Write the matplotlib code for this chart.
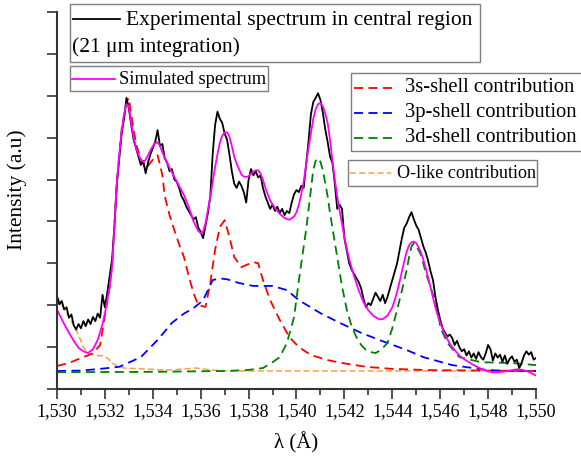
import numpy as np
import matplotlib.pyplot as plt
from matplotlib.ticker import MultipleLocator, FuncFormatter
from matplotlib.lines import Line2D
from matplotlib.patches import Rectangle

plt.rcParams['font.family'] = ['Liberation Serif', 'DejaVu Serif']

# experimental spectrum, sampled every 0.1 mA
wl_exp = np.linspace(1.530, 1.550, 201)
exp_int = [
    2.22, 2.02, 2.10, 1.90, 1.95, 1.70, 1.78, 1.52, 1.42, 1.55,
    1.45, 1.62, 1.50, 1.66, 1.55, 1.72, 1.62, 1.80, 1.70, 2.25,
    1.95, 2.30, 2.70, 3.10, 3.90, 4.90, 5.50, 6.10, 6.45, 6.95,
    6.70, 6.30, 5.95, 5.75, 5.55, 5.35, 5.45, 5.15, 5.40, 5.60,
    5.75, 5.90, 6.18, 5.80, 5.85, 5.50, 5.40, 5.20, 5.25, 5.00,
    4.95, 4.80, 4.60, 4.50, 4.35, 4.25, 4.15, 4.05, 4.10, 3.85,
    3.75, 3.60, 3.90, 4.20, 4.60, 5.60, 6.30, 6.62, 6.45, 6.35,
    6.10, 5.95, 5.60, 5.20, 4.90, 4.80, 4.95, 4.85, 4.70, 4.45,
    5.00, 5.25, 5.10, 5.20, 5.05, 5.10, 4.80, 4.60, 4.45, 4.30,
    4.40, 4.25, 4.35, 4.20, 4.30, 4.15, 4.25, 4.20, 4.45, 4.65,
    4.75, 4.70, 4.85, 4.80, 5.35, 5.90, 6.55, 6.85, 6.95, 7.06,
    6.90, 6.60, 6.20, 5.90, 5.55, 5.40, 4.90, 4.30, 4.40, 4.30,
    3.60, 3.30, 3.00, 2.85, 2.75, 2.65, 2.55, 2.40, 2.15, 1.95,
    2.05, 2.00, 2.15, 2.30, 2.20, 2.10, 2.25, 2.05, 2.20, 2.40,
    2.60, 2.80, 3.00, 3.30, 3.60, 3.85, 3.95, 4.10, 4.22, 4.05,
    3.90, 3.80, 3.60, 3.40, 3.25, 3.05, 2.80, 2.60, 2.20, 1.90,
    1.65, 1.45, 1.35, 1.25, 1.30, 1.22, 1.05, 1.15, 1.00, 0.90,
    0.95, 0.80, 0.90, 0.75, 0.85, 0.72, 0.88, 0.76, 0.70, 0.85,
    1.05, 0.95, 0.68, 0.85, 0.75, 0.82, 0.65, 0.80, 0.60, 0.72,
    0.78, 0.65, 0.70, 0.50, 0.62, 0.80, 0.90, 0.82, 0.88, 0.70,
    0.74,
]

wl_sim = [
    1.5300, 1.5303, 1.5305, 1.5307, 1.5309, 1.5311, 1.5313, 1.5315, 1.5317, 1.5319,
    1.5320, 1.5322, 1.5323, 1.5324, 1.5325, 1.5326, 1.5327, 1.5328, 1.5329, 1.5330,
    1.5331, 1.5332, 1.5333, 1.5334, 1.5335, 1.5336, 1.5337, 1.5338, 1.5339, 1.5340,
    1.5341, 1.5342, 1.5343, 1.5344, 1.5345, 1.5347, 1.5349, 1.5351, 1.5353, 1.5355,
    1.5357, 1.5359, 1.5360, 1.5361, 1.5362, 1.5364, 1.5366, 1.5367, 1.5368, 1.5369,
    1.5370, 1.5371, 1.5372, 1.5373, 1.5374, 1.5375, 1.5376, 1.5377, 1.5378, 1.5379,
    1.5380, 1.5381, 1.5382, 1.5383, 1.5384, 1.5385, 1.5386, 1.5387, 1.5388, 1.5389,
    1.5391, 1.5393, 1.5395, 1.5397, 1.5399, 1.5400, 1.5401, 1.5402, 1.5403, 1.5404,
    1.5405, 1.5406, 1.5407, 1.5408, 1.5409, 1.5410, 1.5411, 1.5412, 1.5413, 1.5414,
    1.5415, 1.5416, 1.5417, 1.5418, 1.5419, 1.5420, 1.5421, 1.5422, 1.5424, 1.5426,
    1.5428, 1.5430, 1.5432, 1.5434, 1.5435, 1.5436, 1.5438, 1.5440, 1.5441, 1.5442,
    1.5443, 1.5444, 1.5445, 1.5446, 1.5447, 1.5448, 1.5449, 1.5450, 1.5451, 1.5452,
    1.5453, 1.5454, 1.5455, 1.5456, 1.5457, 1.5458, 1.5459, 1.5460, 1.5462, 1.5464,
    1.5466, 1.5468, 1.5470, 1.5472, 1.5474, 1.5476, 1.5478, 1.5480, 1.5482, 1.5484,
    1.5486, 1.5488, 1.5490, 1.5492, 1.5494, 1.5496, 1.5498, 1.5500,
]
sim_int = [
    1.89, 1.55, 1.34, 1.15, 0.98, 0.90, 0.86, 0.95, 1.17, 1.55,
    1.81, 2.43, 2.91, 3.90, 4.90, 5.60, 6.15, 6.55, 6.80, 6.75,
    6.35, 6.00, 5.75, 5.60, 5.47, 5.42, 5.47, 5.58, 5.70, 5.80,
    5.87, 5.89, 5.80, 5.65, 5.52, 5.28, 5.06, 4.85, 4.63, 4.35,
    4.00, 3.77, 3.72, 3.76, 3.95, 4.58, 5.30, 5.60, 5.88, 6.05,
    6.12, 6.13, 6.02, 5.80, 5.55, 5.38, 5.25, 5.12, 5.07, 5.06,
    5.08, 5.14, 5.19, 5.22, 5.22, 5.14, 4.99, 4.80, 4.65, 4.50,
    4.32, 4.18, 4.08, 4.04, 4.12, 4.22, 4.40, 4.65, 4.95, 5.35,
    5.75, 6.10, 6.45, 6.68, 6.80, 6.83, 6.75, 6.58, 6.35, 5.95,
    5.45, 5.00, 4.60, 4.25, 3.95, 3.62, 3.35, 3.10, 2.70, 2.35,
    2.07, 1.88, 1.75, 1.68, 1.66, 1.67, 1.75, 1.95, 2.12, 2.32,
    2.55, 2.80, 3.05, 3.28, 3.43, 3.50, 3.52, 3.48, 3.38, 3.25,
    3.08, 2.88, 2.65, 2.42, 2.18, 1.95, 1.75, 1.58, 1.30, 1.08,
    0.93, 0.80, 0.71, 0.64, 0.57, 0.51, 0.46, 0.42, 0.40, 0.40,
    0.41, 0.43, 0.45, 0.47, 0.46, 0.43, 0.38, 0.32,
]

wl_3s = [
    1.5300, 1.5305, 1.5310, 1.5315, 1.5318, 1.5320, 1.5322, 1.5323, 1.5325, 1.5327,
    1.5329, 1.5330, 1.5331, 1.5333, 1.5335, 1.5337, 1.5339, 1.5341, 1.5342, 1.5343,
    1.5344, 1.5345, 1.5347, 1.5349, 1.5351, 1.5353, 1.5355, 1.5357, 1.5359, 1.5362,
    1.5364, 1.5366, 1.5368, 1.5370, 1.5372, 1.5374, 1.5377, 1.5379, 1.5382, 1.5384,
    1.5386, 1.5389, 1.5393, 1.5397, 1.5401, 1.5406, 1.5413, 1.5419, 1.5429, 1.5440,
    1.5456, 1.5500,
]
int_3s = [
    0.55, 0.62, 0.74, 0.85, 1.05, 1.75, 2.45, 2.95, 4.95, 6.20,
    6.85, 6.95, 6.55, 5.85, 5.50, 5.25, 5.40, 5.55, 5.58, 5.35,
    5.10, 4.60, 4.15, 3.79, 3.45, 3.15, 2.70, 2.29, 2.00, 1.96,
    2.53, 3.32, 3.87, 4.03, 3.63, 3.15, 2.91, 2.96, 3.03, 3.00,
    2.60, 2.12, 1.65, 1.24, 1.00, 0.81, 0.69, 0.62, 0.53, 0.48,
    0.45, 0.43,
]

wl_3p = [
    1.5300, 1.5310, 1.5318, 1.5326, 1.5335, 1.5342, 1.5348, 1.5353, 1.5357, 1.5361,
    1.5365, 1.5368, 1.5371, 1.5376, 1.5382, 1.5390, 1.5396, 1.5401, 1.5410, 1.5418,
    1.5427, 1.5436, 1.5446, 1.5453, 1.5465, 1.5480, 1.5490, 1.5500,
]
int_3p = [
    0.43, 0.44, 0.48, 0.53, 0.76, 1.17, 1.58, 1.80, 1.93, 2.12,
    2.60, 2.64, 2.62, 2.53, 2.46, 2.46, 2.36, 2.12, 1.81, 1.58,
    1.34, 1.14, 0.93, 0.76, 0.57, 0.45, 0.43, 0.43,
]

wl_3d = [
    1.5300, 1.5340, 1.5370, 1.5379, 1.5386, 1.5390, 1.5393, 1.5396, 1.5399, 1.5401,
    1.5403, 1.5404, 1.5406, 1.5407, 1.5408, 1.5409, 1.5410, 1.5411, 1.5413, 1.5414,
    1.5417, 1.5419, 1.5421, 1.5423, 1.5425, 1.5427, 1.5429, 1.5431, 1.5433, 1.5435,
    1.5438, 1.5440, 1.5442, 1.5444, 1.5446, 1.5447, 1.5448, 1.5449, 1.5450, 1.5452,
    1.5454, 1.5456, 1.5459, 1.5460, 1.5463, 1.5468, 1.5477, 1.5490, 1.5500,
]
int_3d = [
    0.40, 0.41, 0.43, 0.45, 0.50, 0.64, 0.76, 1.10, 1.72, 2.60,
    3.40, 3.79, 4.75, 5.23, 5.45, 5.51, 5.42, 5.23, 4.60, 4.20,
    3.15, 2.45, 1.89, 1.50, 1.24, 1.05, 0.93, 0.88, 0.86, 0.92,
    1.10, 1.45, 1.89, 2.35, 2.84, 3.15, 3.40, 3.48, 3.42, 3.20,
    2.77, 2.43, 1.89, 1.48, 1.10, 0.76, 0.64, 0.62, 0.57,
]

wl_olike = [
    1.5300, 1.5302, 1.5304, 1.5306, 1.5308, 1.5310, 1.5311, 1.5313, 1.5315, 1.5317,
    1.5319, 1.5321, 1.5323, 1.5325, 1.5328, 1.5336, 1.5346, 1.5358, 1.5365, 1.5373,
    1.5500,
]
int_olike = [
    2.20, 2.00, 1.81, 1.62, 1.41, 1.15, 1.00, 0.86, 0.82, 0.80,
    0.79, 0.74, 0.62, 0.55, 0.50, 0.48, 0.45, 0.50, 0.45, 0.43,
    0.43,
]

W, H = 581, 459
fig = plt.figure(figsize=(W / 100, H / 100), dpi=100)
ax = fig.add_axes([57 / W, 1 - 389 / H, (536 - 57) / W, (389 - 12) / H])

dash = (0, (5, 3))
ax.plot(wl_olike, int_olike, color='#ffa040', lw=1.1, ls=(0, (4, 2)))
ax.plot(wl_3s, int_3s, color='red', lw=1.3, ls=dash)
ax.plot(wl_3p, int_3p, color='blue', lw=1.3, ls=dash)
ax.plot(wl_3d, int_3d, color='green', lw=1.3, ls=dash)
ax.plot(wl_exp, exp_int, color='black', lw=1.3)
ax.plot(wl_sim, sim_int, color='magenta', lw=1.3)

ax.set_xlim(1.530, 1.550)
ax.set_ylim(0, 9)
ax.xaxis.set_major_locator(MultipleLocator(0.002))
ax.xaxis.set_minor_locator(MultipleLocator(0.001))
ax.xaxis.set_major_formatter(FuncFormatter(lambda v, p: f'{v:.3f}'.replace('.', ',')))
ax.yaxis.set_major_locator(MultipleLocator(1))
ax.set_yticklabels([])
ax.tick_params(axis='both', which='major', direction='out', length=7, width=1.2,
               labelsize=13, color='#333333')
ax.tick_params(axis='x', which='minor', direction='out', length=4, width=1.2, color='#333333')
for side in ('top', 'right'):
    ax.spines[side].set_visible(False)
for side in ('left', 'bottom'):
    ax.spines[side].set_linewidth(1.5)
    ax.spines[side].set_color('#333333')

ax.set_xlabel('λ (Å)', fontsize=15, labelpad=8)
ax.set_ylabel('Intensity (a.u)', fontsize=15.5)
ax.yaxis.set_label_coords(-0.063, 0.53)


def fx(px):
    return px / W


def fy(py):
    return 1 - py / H


def box(x0, y0, x1, y1):
    fig.patches.append(Rectangle((fx(x0), fy(y1)), fx(x1) - fx(x0), fy(y0) - fy(y1),
                                 transform=fig.transFigure, fill=False,
                                 edgecolor='#7f7f7f', lw=1.0))


def handle(x0, x1, y, **kw):
    fig.lines.append(Line2D([fx(x0), fx(x1)], [fy(y), fy(y)],
                            transform=fig.transFigure, **kw))


# legend boxes
box(70, 4, 480, 62)
handle(73, 120, 19, color='black', lw=1.3)
fig.text(fx(126), fy(20), 'Experimental spectrum in central region', fontsize=15.5, va='center')
fig.text(fx(72), fy(47), '(21 μm integration)', fontsize=15.5, va='center')

box(70, 66, 268, 91)
handle(72, 115, 79, color='magenta', lw=1.3)
fig.text(fx(119), fy(79), 'Simulated spectrum', fontsize=13.2, va='center')

box(351, 73, 584, 151)
for y, c, lab in [(88, 'red', '3s-shell contribution'),
                  (113, 'blue', '3p-shell contribution'),
                  (138, 'green', '3d-shell contribution')]:
    handle(354, 395, y, color=c, lw=1.3, ls=dash)
    fig.text(fx(405), fy(y), lab, fontsize=14.9, va='center')

box(348, 160, 537, 186)
handle(350, 391, 173, color='#ffa040', lw=1.1, ls=(0, (4, 2)))
fig.text(fx(397), fy(173), 'O-like contribution', fontsize=13.1, va='center')

fig.savefig('out.png', dpi=100)
